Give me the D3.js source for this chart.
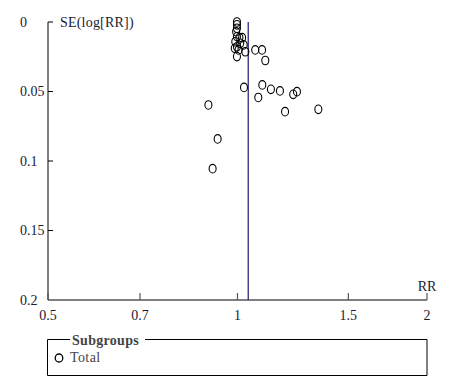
<!DOCTYPE html>
<html><head><meta charset="utf-8">
<script src="https://cdn.jsdelivr.net/npm/d3@7"></script>
<style>body{margin:0;background:#fff}svg{display:block}</style>
</head><body>
<script>
const studyRR = [0.998,0.998,0.998,0.995,0.998,1.017,1.007,0.992,1.010,1.023,0.998,0.990,1.004,1.029,0.998,1.067,1.094,1.107,
  1.024,1.095,1.130,1.168,1.079,1.226,1.243,0.899,1.190,1.344,0.930,0.913];
const studySE = [0.000,0.002,0.0045,0.007,0.0106,0.0113,0.0113,0.0142,0.0153,0.0165,0.0178,0.0189,0.0201,0.0214,0.0249,0.0201,0.0201,0.0277,
  0.0471,0.0453,0.0484,0.0496,0.0543,0.052,0.0501,0.0597,0.0645,0.0628,0.0841,0.1055];
const pooledRR = [1.04];
const xTicks = [0.5,0.7,1,1.5,2];
const xTickLabels = ["0.5","0.7","1","1.5","2"];
const yTicks = [0,0.05,0.1,0.15,0.2];
const yTickLabels = ["0","0.05","0.1","0.15","0.2"];
const xTitle = "RR", yTitle = "SE(log[RR])";
const legendTitle = "Subgroups", legendItems = ["Total"];

const W=451,H=381;
const font="'Liberation Serif', 'Times New Roman', serif";
const svg=d3.select("body").append("svg").attr("width",W).attr("height",H);
const x=d3.scaleLog().domain([0.5,2]).range([48,427]);
const y=d3.scaleLinear().domain([0,0.2]).range([22,300]);

// y axis
svg.append("line").attr("x1",48).attr("x2",48).attr("y1",y(0)).attr("y2",y(0.2)).attr("stroke","#808080").attr("stroke-width",2);
const yg=svg.append("g");
yTicks.forEach((t,i)=>{
  if(i<yTicks.length-1) yg.append("line").attr("x1",48).attr("x2",53).attr("y1",y(t)).attr("y2",y(t)).attr("stroke","#000").attr("stroke-width",1);
  yg.append("text").attr("x",20).attr("y",y(t)).attr("dy","0.35em").attr("font-family",font).attr("font-size",14).attr("fill","#1a1a33").text(yTickLabels[i]);
});
svg.append("text").attr("x",60).attr("y",y(0)).attr("dy","0.35em").attr("font-family",font).attr("font-size",14).attr("letter-spacing",0.2).attr("fill","#1a1a33").text(yTitle);

// x axis
svg.append("line").attr("x1",x(0.5)).attr("x2",x(2)).attr("y1",300).attr("y2",300).attr("stroke","#000").attr("stroke-width",1.2);
xTicks.forEach((t,i)=>{
  svg.append("line").attr("x1",x(t)).attr("x2",x(t)).attr("y1",300).attr("y2",293).attr("stroke","#555").attr("stroke-width",1.2);
  svg.append("text").attr("x",x(t)).attr("y",320).attr("text-anchor","middle").attr("font-family",font).attr("font-size",14).attr("fill","#1a1a33").text(xTickLabels[i]);
});
svg.append("text").attr("x",427).attr("y",291).attr("text-anchor","middle").attr("font-family",font).attr("font-size",14).attr("fill","#1a1a33").text(xTitle);

// pooled line
svg.append("line").attr("x1",x(pooledRR[0])).attr("x2",x(pooledRR[0])).attr("y1",y(0)).attr("y2",300).attr("stroke","#1a1a6e").attr("stroke-width",1.2);

// points
svg.append("g").selectAll("ellipse").data(studyRR.map((r,i)=>[r,studySE[i]])).join("ellipse")
  .attr("cx",d=>x(d[0])).attr("cy",d=>y(d[1])).attr("rx",3.5).attr("ry",4.3)
  .attr("fill","none").attr("stroke","#000").attr("stroke-width",1.1);

// legend
const lg=svg.append("g");
const lx0=47.5,lx1=427,ly0=339.5,ly1=375.5;
lg.append("path").attr("d",`M${70},${ly0}H${lx0}V${ly1}H${lx1}V${ly0}H${145}`).attr("fill","none").attr("stroke","#000").attr("stroke-width",1);
lg.append("text").attr("x",72).attr("y",345).attr("font-family",font).attr("font-size",14).attr("letter-spacing",0.3).attr("font-weight","bold").attr("fill","#444").text(legendTitle);
legendItems.forEach((t,i)=>{
  lg.append("ellipse").attr("cx",59).attr("cy",358).attr("rx",3.8).attr("ry",4).attr("fill","none").attr("stroke","#000").attr("stroke-width",1.3);
  lg.append("text").attr("x",70).attr("y",362).attr("font-family",font).attr("font-size",14).attr("letter-spacing",0.4).attr("fill","#444").text(t);
});
</script>
</body></html>
